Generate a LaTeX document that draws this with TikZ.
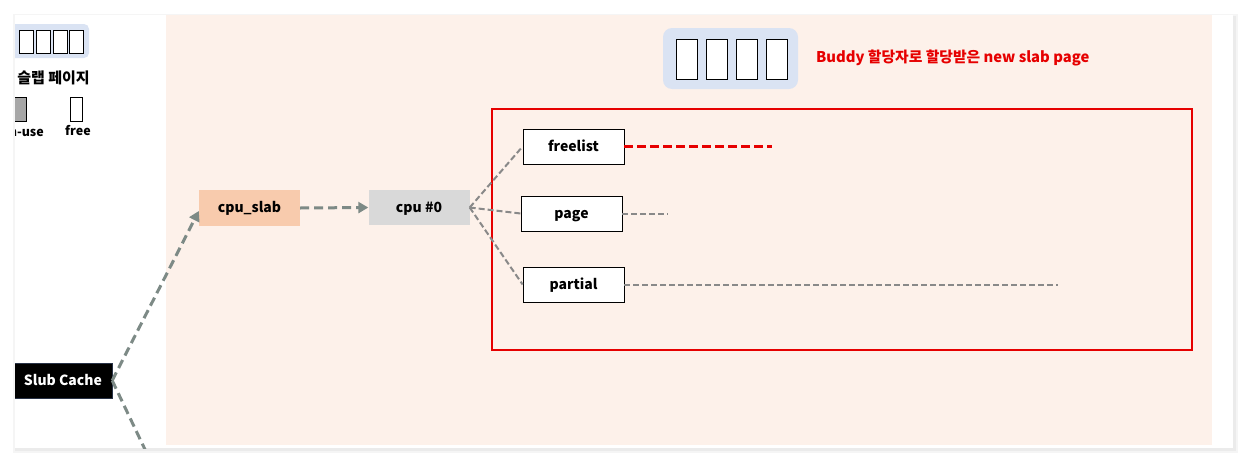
\documentclass[tikz,border=0pt]{standalone}
\usepackage{fontspec}
\setmainfont{Noto Sans CJK KR}
\usetikzlibrary{arrows.meta}
\definecolor{peach}{RGB}{253,241,234}
\definecolor{legendblue}{RGB}{218,227,243}
\definecolor{slabfill}{RGB}{248,203,173}
\definecolor{cpufill}{RGB}{217,217,217}
\definecolor{arrowgray}{RGB}{125,138,134}
\definecolor{linegray}{RGB}{137,137,137}
\definecolor{inuse}{RGB}{166,166,166}
\definecolor{myred}{RGB}{230,0,0}
\tikzset{
  txt/.style={font=\fontsize{14}{16}\selectfont\bfseries, text height=11pt, text depth=2pt},
  lbl/.style={font=\fontsize{14}{16}\selectfont\bfseries, inner sep=0pt},
  fieldbox/.style={txt, draw=black, fill=white, line width=0.8pt, minimum width=101pt, minimum height=35pt, inner sep=0pt},
  tofu/.style={draw=black, fill=white, line width=0.9pt},
  bigarrow/.style={draw=arrowgray, line width=3pt, dash pattern=on 9pt off 5pt, -{Triangle[length=10pt,width=11pt]}},
  bigline/.style={draw=arrowgray, line width=3pt, dash pattern=on 9pt off 5pt},
  thindash/.style={draw=linegray, line width=2pt, dash pattern=on 6pt off 3pt},
}
\begin{document}
\begin{tikzpicture}[x=1pt,y=-1pt]
\useasboundingbox (0,0) rectangle (1248,463);
\fill[white] (0,0) rectangle (1248,463);
% card shadow
\fill[black!4] (13,14) rectangle (1238,453);
\fill[black!8] (15,16) rectangle (1236,451);
\fill[white] (15,15) rectangle (1233,448);
\begin{scope}
\clip (15,15) rectangle (1233,448);
\fill[peach] (166,15) rectangle (1212,445);
% legend top-left
\fill[legendblue, rounded corners=5pt] (10,24) rectangle (89,58);
\foreach \x in {19,36,53,69} \draw[tofu] (\x,30) rectangle ++(14,23);
\node[lbl, font=\fontsize{15}{17}\selectfont\bfseries, anchor=east] (legtitle) at (90,78) {슬랩 페이지};
\draw[black, fill=inuse, line width=0.9pt] (14,97) rectangle (26,121);
\draw[tofu] (70,97) rectangle (82,121);
\node[font=\fontsize{12.5}{14}\selectfont\bfseries, inner sep=0pt, anchor=east] (inuselbl) at (44,131) {in-use};
\node[font=\fontsize{12.5}{14}\selectfont\bfseries, inner sep=0pt] (freelbl) at (78,131) {free};
% nodes
\node[txt, fill=black, draw={rgb,255:red,40;green,50;blue,70}, minimum width=98pt, minimum height=35pt, inner sep=0pt, text=white] (slub) at (63,380.5) {Slub Cache};
\node[txt, fill=slabfill, minimum width=101pt, minimum height=36pt, inner sep=0pt] (cpuslab) at (249.5,208) {cpu\_slab};
\node[txt, fill=cpufill, minimum width=101pt, minimum height=35pt, inner sep=0pt] (cpu0) at (419,207.5) {cpu \#0};
\draw[myred, line width=2pt] (492,109) rectangle (1192,350);
\node[fieldbox] (freelist) at (573.5,146.5) {freelist};
\node[fieldbox] (page) at (571.5,213.5) {page};
\node[fieldbox] (partial) at (573.5,284.5) {partial};
\coordinate (down) at (150,460);
\coordinate (fend) at (772,146.5);
\coordinate (pend) at (668,213.5);
\coordinate (parend) at (1058,284.5);
\draw[bigarrow] (slub.east) -- ([yshift=-3pt]cpuslab.west);
\draw[bigline] (slub.east) -- (down);
\draw[bigarrow] (cpuslab.east) -- (cpu0.west);
\draw[thindash] (cpu0.east) -- (freelist.west);
\draw[thindash] (cpu0.east) -- (page.west);
\draw[thindash] (cpu0.east) -- (partial.west);
\draw[myred, line width=3pt, dash pattern=on 9pt off 4pt] (freelist.east) -- (fend);
\draw[thindash] (page.east) -- (pend);
\draw[thindash] (partial.east) -- (parend);
% top middle
\fill[legendblue, rounded corners=9pt] (663,28) rectangle (798,89);
\foreach \x in {676,706,736,766} \draw[tofu] (\x,39) rectangle ++(21,40);
\node[lbl, font=\fontsize{14.8}{17}\selectfont\bfseries, text=myred, anchor=west] (buddy) at (816,58) {Buddy 할당자로 할당받은 new slab page};
\end{scope}
\end{tikzpicture}
\end{document}
